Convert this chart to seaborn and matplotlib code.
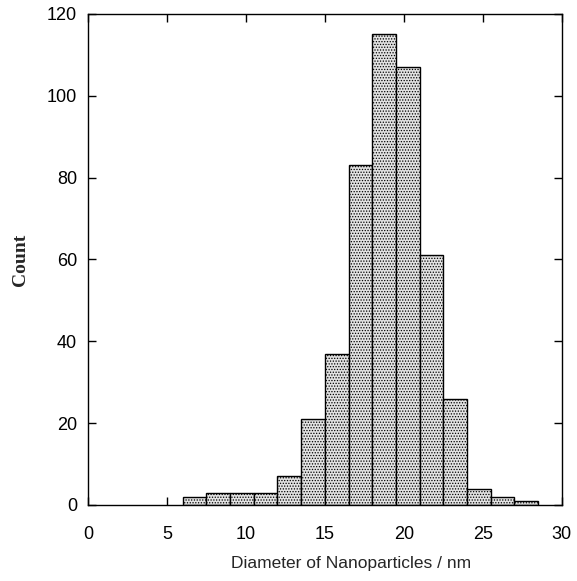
import numpy as np
import matplotlib
matplotlib.use('Agg')
import matplotlib.pyplot as plt
import seaborn as sns

# histogram bins (width 1.5 nm, starting at 6 nm)
bin_edges = [6.0, 7.5, 9.0, 10.5, 12.0, 13.5, 15.0, 16.5, 18.0, 19.5, 21.0, 22.5, 24.0, 25.5, 27.0, 28.5]
counts = [2, 3, 3, 3, 7, 21, 37, 83, 115, 107, 61, 26, 4, 2, 1]
x_ticks = [0, 5, 10, 15, 20, 25, 30]
y_ticks = [0, 20, 40, 60, 80, 100, 120]

centers = [(a + b) / 2 for a, b in zip(bin_edges[:-1], bin_edges[1:])]

sns.set_style('ticks')
plt.rcParams['font.family'] = ['Liberation Sans', 'DejaVu Sans']
plt.rcParams['hatch.color'] = '#8a8a8a'
plt.rcParams['hatch.linewidth'] = 0.6

fig = plt.figure(figsize=(5.77, 5.81), dpi=100)
ax = fig.add_axes([0.1525, 0.131, 0.821, 0.845])

sns.histplot(x=centers, weights=counts, bins=bin_edges, ax=ax,
             color='#e2e2e2', edgecolor='black', linewidth=1.0, alpha=1)
for p in ax.patches:
    p.set_hatch('......')

ax.set_xlim(0, 30)
ax.set_ylim(0, 120)
ax.set_xticks(x_ticks)
ax.set_yticks(y_ticks)
ax.tick_params(direction='in', length=6, width=1, top=True, right=True,
               labelsize=13, colors='black')
ax.tick_params(axis='x', pad=15)
ax.tick_params(axis='y', pad=8)
for s in ax.spines.values():
    s.set_linewidth(1.0)
    s.set_color('black')

# the x title sits a little right of the axes centre in the original
ax.set_xlabel('Diameter of Nanoparticles / nm', fontsize=12.5)
ax.xaxis.set_label_coords(0.556, -0.105)
ax.set_ylabel('Count', fontsize=14, fontweight='bold', family=['Liberation Serif'])
ax.yaxis.set_label_coords(-0.125, 0.5)

fig.savefig('out.png', dpi=100)
